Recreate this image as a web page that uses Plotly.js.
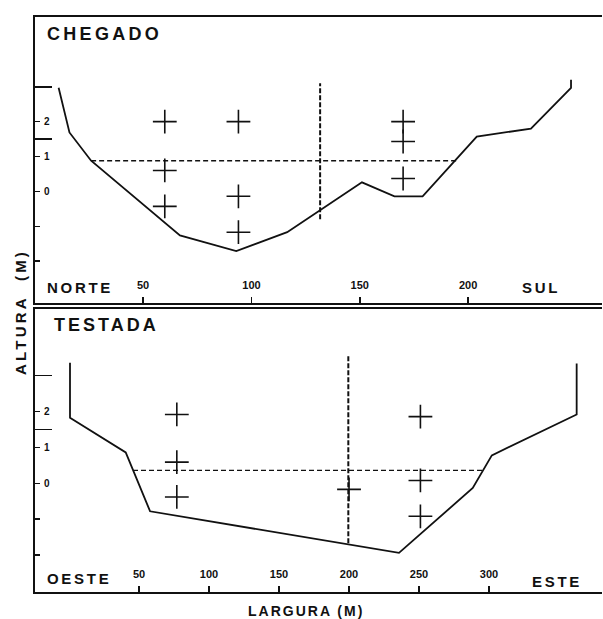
<!DOCTYPE html>
<html>
<head>
<meta charset="utf-8">
<script src="https://cdn.plot.ly/plotly-3.0.1.min.js"></script>
<style>html,body{margin:0;padding:0;background:#fff;}#chart{width:603px;height:619px;}</style>
</head>
<body>
<div id="chart"></div>
<script>
// ---- CHEGADO (top panel) ----
var topProfileX = [11, 16, 26, 67, 93, 116.5, 151, 166, 179, 204, 229, 247.5, 247.5];
var topProfileY = [2.97, 1.69, 0.88, -1.26, -1.71, -1.17, 0.26, -0.14, -0.14, 1.57, 1.8, 2.97, 3.2];
var topWaterX = [26, 195.5];
var topWaterY = [0.88, 0.88];
var topVertX = [131.7, 131.7];
var topVertY = [-0.8, 3.1];
var topCrossX = [60, 60, 60, 94, 94, 94, 170, 170, 170];
var topCrossY = [2.0, 0.6, -0.43, 2.0, -0.14, -1.17, 2.0, 1.43, 0.37];
var topTickVals = [50, 100, 150, 200];

// ---- TESTADA (bottom panel) ----
var botProfileX = [0.7, 0.7, 40.5, 57.9, 235.7, 288.4, 302, 362.6, 362.6];
var botProfileY = [3.36, 1.83, 0.86, -0.78, -1.94, -0.13, 0.78, 1.92, 3.34];
var botWaterX = [45.7, 295.5];
var botWaterY = [0.36, 0.36];
var botVertX = [199.5, 199.5];
var botVertY = [-1.67, 3.6];
var botCrossX = [77, 77, 77, 200, 251, 251, 251];
var botCrossY = [1.92, 0.59, -0.38, -0.17, 1.86, 0.08, -0.92];
var botTickVals = [50, 100, 150, 200, 250, 300];

// ---- y ticks (both panels) ----
var yTickVals = [3, 2, 1, 0, -1, -2];
var yTickText = ['', '2', '1', '0', '', ''];
var yLongTicks = [3, 1.5];

var FONT = 'Liberation Sans, Arial, sans-serif';
var black = '#111';

function line(x, y, xa, ya, dash, w) {
  return {x: x, y: y, xaxis: xa, yaxis: ya, mode: 'lines', type: 'scatter',
    line: {color: black, width: w, dash: dash}, hoverinfo: 'skip', showlegend: false};
}
function crosses(x, y, xa, ya) {
  return {x: x, y: y, xaxis: xa, yaxis: ya, mode: 'markers', type: 'scatter',
    marker: {symbol: 'cross-thin', size: 17, color: black, line: {color: black, width: 1.6}},
    hoverinfo: 'skip', showlegend: false};
}
function ghost(xa, ya, xv) {
  return {x: [xv, xv], y: yLongTicks, xaxis: xa, yaxis: ya, mode: 'markers', type: 'scatter',
    marker: {opacity: 0, size: 1}, hoverinfo: 'skip', showlegend: false};
}

var data = [
  line(topProfileX, topProfileY, 'x', 'y', 'solid', 1.8),
  line(topWaterX, topWaterY, 'x', 'y', '5px,3px', 1.4),
  line(topVertX, topVertY, 'x', 'y', '5px,2px', 2),
  crosses(topCrossX, topCrossY, 'x', 'y'),
  line(botProfileX, botProfileY, 'x2', 'y2', 'solid', 1.8),
  line(botWaterX, botWaterY, 'x2', 'y2', '5px,3px', 1.4),
  line(botVertX, botVertY, 'x2', 'y2', '5px,2px', 2),
  crosses(botCrossX, botCrossY, 'x2', 'y2'),
  ghost('x', 'y3', topVertX[0]),
  ghost('x2', 'y4', botVertX[0])
];

var xCommon = {
  showline: true, linewidth: 2, linecolor: black, mirror: true,
  showgrid: false, zeroline: false, ticks: 'inside', ticklen: 6, tickwidth: 1.5, tickcolor: black,
  ticklabelposition: 'inside', ticklabelstandoff: 5,
  tickfont: {family: FONT, size: 11, color: black, weight: 'bold'}
};
var yCommon = {
  showline: true, linewidth: 2, linecolor: black, mirror: false,
  showgrid: false, zeroline: false, ticks: 'inside', ticklen: 5, tickwidth: 1.5, tickcolor: black,
  tickmode: 'array', tickvals: yTickVals, ticktext: yTickText,
  ticklabelposition: 'inside', ticklabelstandoff: 3,
  tickfont: {family: FONT, size: 10, color: black, weight: 'bold'}
};
function merge(a, b) { var o = {}; for (var k in a) o[k] = a[k]; for (var k2 in b) o[k2] = b[k2]; return o; }

var topDomain = [0.5026, 1];
var botDomain = [0, 0.4922];

function ann(text, x, y, size, xanchor, extra) {
  var a = {text: text, x: x, y: y, xref: 'paper', yref: 'paper', xanchor: xanchor, yanchor: 'middle',
    showarrow: false, font: {family: FONT, size: size, color: black, weight: 'bold'}};
  if (extra) for (var k in extra) a[k] = extra[k];
  return a;
}
function sp(t, ls) { return '<span style="letter-spacing:' + ls + 'px">' + t + '</span>'; }

var longTickAxis = {showline: false, showgrid: false, zeroline: false,
  ticks: 'inside', ticklen: 17, tickwidth: 1.5, tickcolor: black, tickmode: 'array',
  tickvals: yLongTicks, showticklabels: false};

var layout = {
  width: 603, height: 619,
  margin: {l: 35, r: 1, t: 17, b: 27, pad: 0},
  paper_bgcolor: '#fff', plot_bgcolor: '#fff',
  showlegend: false,
  xaxis: merge(xCommon, {domain: [0, 1], anchor: 'y', range: [0.1, 261.8], tickmode: 'array', tickvals: topTickVals}),
  yaxis: merge(yCommon, {domain: topDomain, anchor: 'x', range: [-3.2, 5.0]}),
  xaxis2: merge(xCommon, {domain: [0, 1], anchor: 'y2', range: [-24.3, 380.7], tickmode: 'array', tickvals: botTickVals}),
  yaxis2: merge(yCommon, {domain: botDomain, anchor: 'x2', range: [-3.03, 4.86]}),
  yaxis3: merge(longTickAxis, {overlaying: 'y', anchor: 'x', side: 'left', range: [-3.2, 5.0]}),
  yaxis4: merge(longTickAxis, {overlaying: 'y2', anchor: 'x2', side: 'left', range: [-3.03, 4.86]}),
  annotations: [
    ann(sp('CHEGADO', 3.3), 0.0176, 0.970, 18, 'left'),
    ann(sp('NORTE', 2.7), 0.0176, 0.530, 15, 'left'),
    ann(sp('SUL', 2.7), 0.855, 0.530, 15, 'left'),
    ann(sp('TESTADA', 3), 0.030, 0.465, 18, 'left'),
    ann(sp('OESTE', 2.7), 0.0176, 0.0243, 15, 'left'),
    ann(sp('ESTE', 2.7), 0.873, 0.0183, 15, 'left'),
    ann(sp('LARGURA (M)', 2), 0.478, -0.033, 14, 'center'),
    ann(sp('ALTURA  (M)', 3.2), -0.0247, 0.487, 15, 'center', {textangle: -90})
  ]
};

Plotly.newPlot('chart', data, layout, {staticPlot: true, displayModeBar: false});
</script>
</body>
</html>
